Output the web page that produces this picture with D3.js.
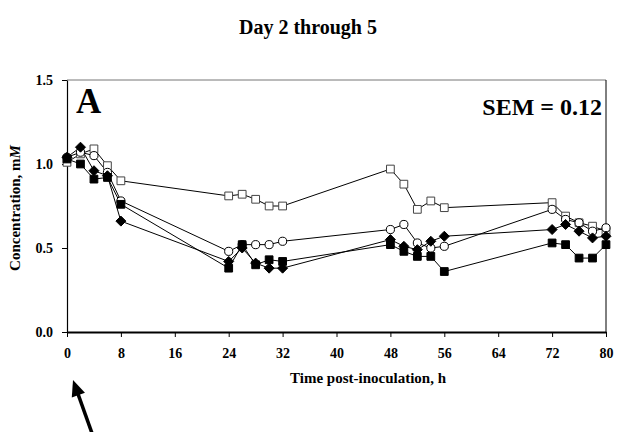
<!DOCTYPE html>
<html lang="en">
<head>
    <meta charset="UTF-8">
    <title>Day 2 through 5</title>
    <script src="https://d3js.org/d3.v7.min.js"></script>
    <style>
        body {
            margin: 0;
            background: #ffffff;
        }

        svg text {
            font-family: "Liberation Serif", "Times New Roman", serif;
            font-weight: bold;
            fill: #000;
        }

        .axis path, .axis line {
            stroke: #000;
        }
    </style>
</head>
<body>

<script>
    // hours post-inoculation
    const hours = [0, 2, 4, 6, 8, 24, 26, 28, 30, 32, 48, 50, 52, 54, 56, 72, 74, 76, 78, 80];

    const openSquares = [1.01, 1.06, 1.09, 0.99, 0.90, 0.81, 0.82, 0.79, 0.75, 0.75,
        0.97, 0.88, 0.73, 0.78, 0.74, 0.77, 0.69, 0.65, 0.63, 0.60];
    const openCircles = [1.04, 1.07, 1.05, 0.95, 0.78, 0.48, 0.52, 0.52, 0.52, 0.54,
        0.61, 0.64, 0.53, 0.50, 0.51, 0.73, 0.67, 0.65, 0.60, 0.62];
    const filledDiamonds = [1.04, 1.10, 0.96, 0.93, 0.66, 0.42, 0.50, 0.41, 0.38, 0.38,
        0.55, 0.51, 0.49, 0.54, 0.57, 0.61, 0.64, 0.60, 0.56, 0.57];
    const filledSquares = [1.03, 1.00, 0.91, 0.92, 0.76, 0.38, 0.52, 0.40, 0.43, 0.42,
        0.52, 0.48, 0.45, 0.45, 0.36, 0.53, 0.52, 0.44, 0.44, 0.52];

    const xTicks = [0, 8, 16, 24, 32, 40, 48, 56, 64, 72, 80];
    const yTicks = [0, 0.5, 1.0, 1.5];

    const width = 620;
    const height = 432;
    const margin = {top: 80, right: 14, bottom: 100, left: 67};

    const svg = d3.select("body").append("svg")
        .attr("width", width)
        .attr("height", height);

    const x = d3.scaleLinear()
        .domain([0, 80])
        .range([margin.left, width - margin.right]);

    const y = d3.scaleLinear()
        .domain([0, 1.5])
        .range([height - margin.bottom, margin.top]);

    // title
    svg.append("text")
        .attr("x", 308)
        .attr("y", 34)
        .attr("text-anchor", "middle")
        .style("font-size", "20px")
        .text("Day 2 through 5");

    // frame (top + right)
    svg.append("line")
        .attr("x1", x(0)).attr("x2", x(80))
        .attr("y1", y(1.5)).attr("y2", y(1.5))
        .attr("stroke", "#777").attr("stroke-width", 1);
    svg.append("line")
        .attr("x1", x(80)).attr("x2", x(80))
        .attr("y1", y(1.5)).attr("y2", y(0))
        .attr("stroke", "#000").attr("stroke-width", 1);

    // axes
    svg.append("g")
        .attr("class", "axis")
        .attr("transform", `translate(${x(0)},0)`)
        .call(d3.axisLeft(y).tickValues(yTicks).tickFormat(d3.format(".1f")).tickSize(5).tickSizeOuter(0))
        .call(g => g.selectAll("text").style("font-size", "14px").attr("x", -14))
        .call(g => g.select(".domain").attr("stroke-width", 1.2));

    svg.append("g")
        .attr("class", "axis")
        .attr("transform", `translate(0,${y(0)})`)
        .call(d3.axisBottom(x).tickValues(xTicks).tickSize(5).tickSizeOuter(0))
        .call(g => g.selectAll("text").style("font-size", "14px").attr("y", 16))
        .call(g => g.select(".domain").attr("stroke", "#444").attr("stroke-width", 2))
        .call(g => g.selectAll(".tick line").attr("stroke", "#444"));

    // axis titles
    svg.append("text")
        .attr("x", 368)
        .attr("y", 383)
        .attr("text-anchor", "middle")
        .style("font-size", "15px")
        .text("Time post-inoculation, h");

    const yTitle = svg.append("text")
        .attr("transform", `translate(20,${(y(0) + y(1.5)) / 2 + 2}) rotate(-90)`)
        .attr("text-anchor", "middle")
        .style("font-size", "15px");
    yTitle.append("tspan").text("Concentration, m");
    yTitle.append("tspan").style("font-style", "italic").text("M");

    // panel letter and SEM
    svg.append("text")
        .attr("x", 76)
        .attr("y", 113)
        .style("font-size", "35px")
        .text("A");

    svg.append("text")
        .attr("x", 602)
        .attr("y", 115)
        .attr("text-anchor", "end")
        .style("font-size", "24px")
        .text("SEM = 0.12");

    // series
    const series = [
        {values: openSquares, shape: "square", fill: "#fff", stroke: "#444"},
        {values: openCircles, shape: "circle", fill: "#fff", stroke: "#000"},
        {values: filledDiamonds, shape: "diamond", fill: "#000", stroke: "#000"},
        {values: filledSquares, shape: "square", fill: "#000", stroke: "#000"}
    ];

    const line = d3.line()
        .x((d, i) => x(hours[i]))
        .y(d => y(d));

    series.forEach(s => {
        svg.append("path")
            .datum(s.values)
            .attr("d", line)
            .attr("fill", "none")
            .attr("stroke", "#000")
            .attr("stroke-width", 1);
    });

    // excel-style diamond: as wide as it is tall
    const wideDiamond = {
        draw(ctx, size) {
            const r = Math.sqrt(size / 2);
            ctx.moveTo(0, -r);
            ctx.lineTo(r, 0);
            ctx.lineTo(0, r);
            ctx.lineTo(-r, 0);
            ctx.closePath();
        }
    };

    const symbols = {
        square: d3.symbol().type(d3.symbolSquare).size(60),
        circle: d3.symbol().type(d3.symbolCircle).size(52),
        diamond: d3.symbol().type(wideDiamond).size(50)
    };

    series.forEach(s => {
        svg.append("g")
            .selectAll("path")
            .data(s.values)
            .enter().append("path")
            .attr("transform", (d, i) => `translate(${x(hours[i])},${y(d)})`)
            .attr("d", symbols[s.shape])
            .attr("fill", s.fill)
            .attr("stroke", s.stroke)
            .attr("stroke-width", 1);
    });

    // arrow pointing at time zero
    const tip = [73, 380], tail = [93, 436];
    const len = Math.hypot(tail[0] - tip[0], tail[1] - tip[1]);
    const u = [(tip[0] - tail[0]) / len, (tip[1] - tail[1]) / len];
    const n = [-u[1], u[0]];
    const headLen = 16, headHalf = 7;
    const base = [tip[0] - headLen * u[0], tip[1] - headLen * u[1]];

    svg.append("line")
        .attr("x1", tail[0]).attr("y1", tail[1])
        .attr("x2", base[0] + 2 * u[0]).attr("y2", base[1] + 2 * u[1])
        .attr("stroke", "#000")
        .attr("stroke-width", 3.5);

    svg.append("path")
        .attr("d", `M${tip[0]},${tip[1]}` +
            `L${base[0] + headHalf * n[0]},${base[1] + headHalf * n[1]}` +
            `L${base[0] - headHalf * n[0]},${base[1] - headHalf * n[1]}Z`)
        .attr("fill", "#000");
</script>

</body>
</html>
